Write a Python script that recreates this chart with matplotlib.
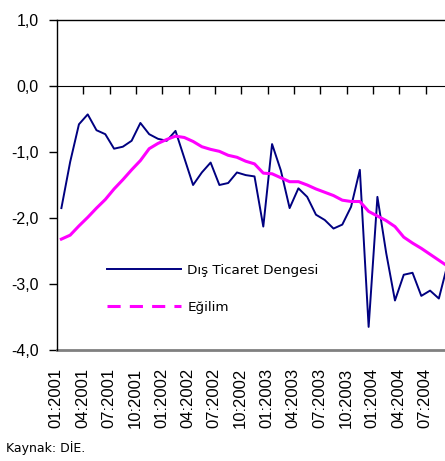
import matplotlib
matplotlib.use("Agg")
import matplotlib.pyplot as plt
import matplotlib.transforms as mtransforms
from matplotlib.lines import Line2D

# Dış ticaret dengesi (aylık, 01:2001 - 09:2004)
dis_ticaret = [-1.85, -1.15, -0.58, -0.43, -0.67, -0.73, -0.95, -0.92, -0.83, -0.56,
               -0.73, -0.80, -0.83, -0.68, -1.09, -1.50, -1.31, -1.16, -1.50, -1.47,
               -1.31, -1.35, -1.37, -2.13, -0.88, -1.28, -1.85, -1.55, -1.68, -1.95,
               -2.03, -2.16, -2.10, -1.83, -1.27, -3.65, -1.68, -2.53, -3.25, -2.86,
               -2.83, -3.18, -3.10, -3.22, -2.70]

# Eğilim
egilim = [-2.32, -2.26, -2.12, -1.99, -1.85, -1.72, -1.56, -1.42, -1.27, -1.13,
          -0.95, -0.87, -0.81, -0.76, -0.78, -0.84, -0.92, -0.96, -0.99, -1.05,
          -1.08, -1.14, -1.18, -1.32, -1.33, -1.39, -1.45, -1.45, -1.50, -1.56,
          -1.61, -1.66, -1.73, -1.75, -1.75, -1.90, -1.97, -2.04, -2.13, -2.29,
          -2.38, -2.46, -2.55, -2.64, -2.73]

tick_labels = ["01:2001", "04:2001", "07:2001", "10:2001", "01:2002", "04:2002",
               "07:2002", "10:2002", "01:2003", "04:2003", "07:2003", "10:2003",
               "01:2004", "04:2004", "07:2004"]

y_ticks = [1, 0, -1, -2, -3, -4]
y_labels = ["1,0", "0,0", "-1,0", "-2,0", "-3,0", "-4,0"]

mavi = "#000080"
pembe = "#FF00FF"

fig = plt.figure(figsize=(4.45, 4.61), dpi=100)
ax = fig.add_axes([57 / 445, 111 / 461, 388 / 445, 330 / 461])

x = list(range(len(dis_ticaret)))
ax.plot(x, dis_ticaret, color=mavi, lw=1.4)
ax.plot(x, egilim, color=pembe, lw=2.2)

ax.set_xlim(-0.5, 43.7)
ax.set_ylim(-4, 1)

# y ekseni
ax.set_yticks(y_ticks, y_labels)
ax.tick_params(axis="y", length=6, width=1, pad=7, labelsize=11.5)
for lab in ax.get_yticklabels():
    lab.set_fontfamily("Liberation Sans")

# x ekseni sıfırda, çentikler ay grupları arasında
ax.spines["bottom"].set_position(("data", 0))
ax.spines["right"].set_visible(False)
ax.spines["top"].set_linewidth(1)
ax.spines["left"].set_linewidth(1)
ax.set_xticks([3 * k + 2.5 for k in range(14)])
ax.tick_params(axis="x", direction="out", length=6, width=1, labelbottom=False)

# alt kenar (gri)
ax.axhline(-4, color="#808080", lw=2, clip_on=False)

# etiketler alt kenarın altında
trans = mtransforms.blended_transform_factory(ax.transData, ax.transAxes)
for k, lab in enumerate(tick_labels):
    ax.text(3 * k - 0.6, -0.055, lab, transform=trans, rotation=90,
            ha="center", va="top", fontsize=12, family="Liberation Sans",
            clip_on=False)

handles = [Line2D([], [], color=mavi, lw=1.4),
           Line2D([], [], color=pembe, lw=2.2, ls=(0, (4.3, 3)))]
ax.legend(handles, ["Dış Ticaret Dengesi", "Eğilim"], loc="upper left",
          bbox_to_anchor=(0.129, 0.26), frameon=False, handlelength=5.5,
          labelspacing=1.75, handletextpad=0.45, borderpad=0, borderaxespad=0,
          prop={"family": "DejaVu Sans", "size": 9.7})

fig.text(6 / 445, 9 / 461, "Kaynak: DİE.", fontsize=9, family="DejaVu Sans",
         va="baseline")

fig.savefig("out.png", dpi=100)
